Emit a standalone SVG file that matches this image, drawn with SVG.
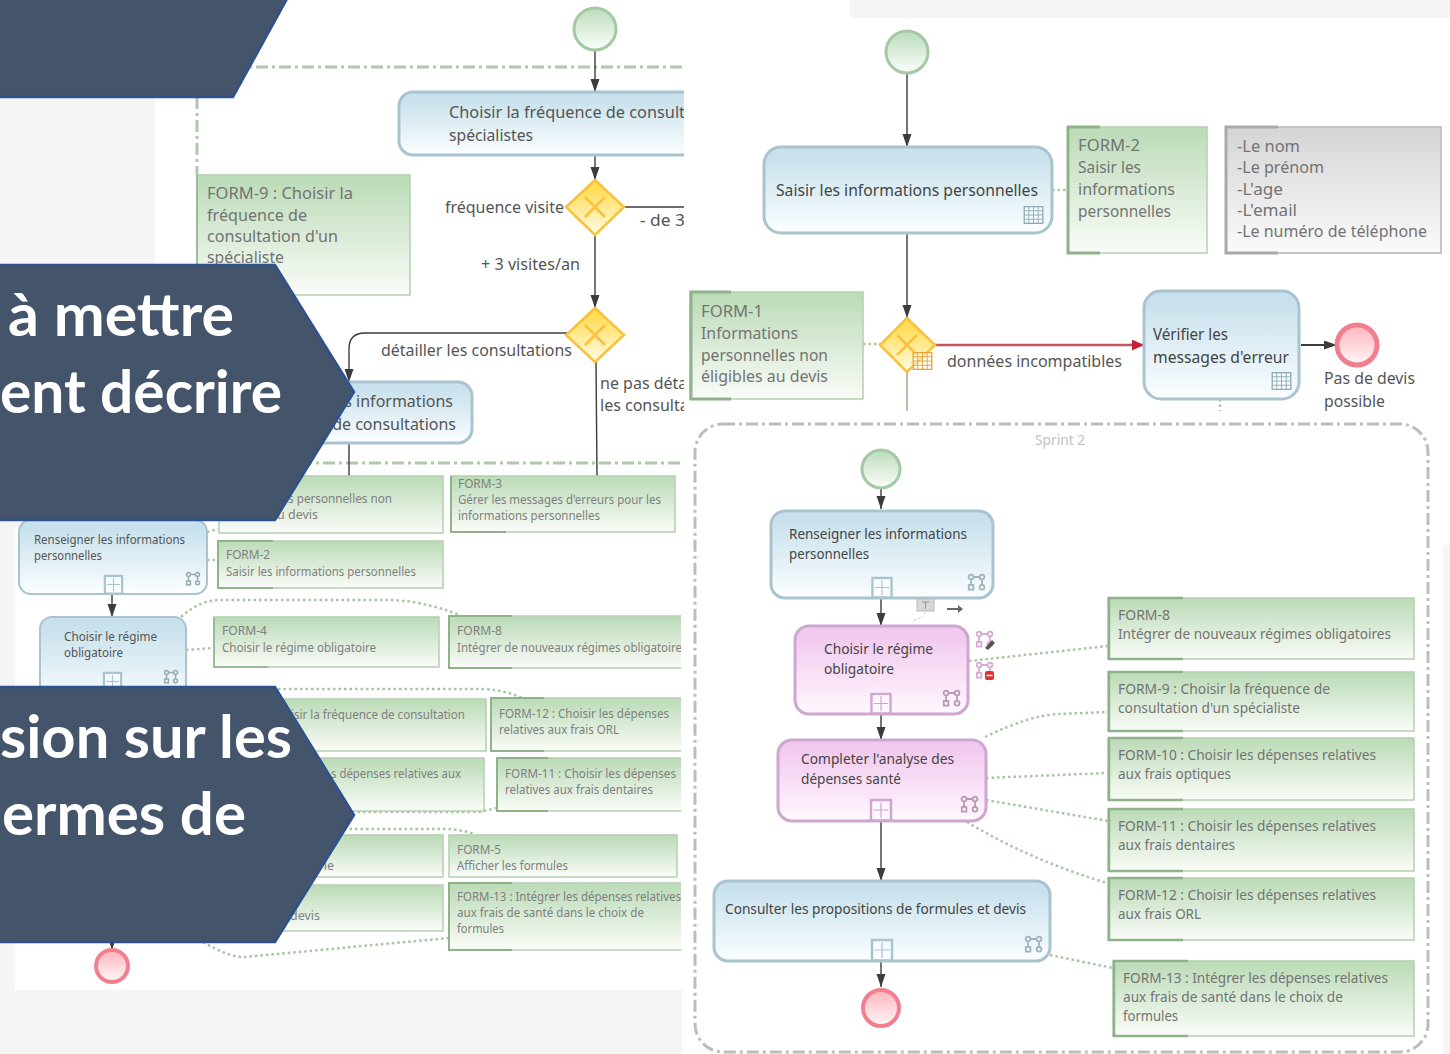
<svg xmlns="http://www.w3.org/2000/svg" width="1450" height="1054" viewBox="0 0 1450 1054">
<style>
text{font-family:"Noto Sans","Open Sans","Liberation Sans",sans-serif;}
.t{fill:#444;font-size:16px}
.s{fill:#555;font-size:12.5px}
.f{fill:#737373;font-size:14px}
.fs{fill:#7f7f7f;font-size:12.5px}
.l{fill:#555;font-size:16px}
.b{fill:#fff;font-family:Lato,"Noto Sans",sans-serif;font-weight:700;font-size:60px}
.task{fill:url(#gBlue);stroke:#a9c4d0;stroke-width:3}
.taskT{fill:url(#gBlue);stroke:#a9c4d0;stroke-width:2}
.pink{fill:url(#gPink);stroke:#cfa6cf;stroke-width:3}
.req{fill:url(#gGreen);stroke:#b3d0af;stroke-width:1.5}
.grey{fill:url(#gGrey);stroke:#c4c4c4;stroke-width:2}
.edge{fill:none;stroke:#8fb28b;stroke-width:3}
.edgeg{fill:none;stroke:#aaa;stroke-width:3}
.gw{fill:url(#gGold);stroke:#f9c13c;stroke-width:2.5}
.gx{fill:none;stroke:#f9c13c;stroke-width:2.5}
.seq{fill:none;stroke:#3c3c3c;stroke-width:1.4}
.ar{fill:none;stroke:#3c3c3c;stroke-width:1.4;marker-end:url(#arr)}
.dot{fill:none;stroke:#a6c5a2;stroke-width:2.5;stroke-dasharray:2.5 3}
.dash{fill:none;stroke:#afcaab;stroke-width:3;stroke-dasharray:12 4 3 4}
.st{fill:url(#gStart);stroke:#a5c8a5;stroke-width:3}
.en{fill:url(#gEnd);stroke:#f08090;stroke-width:4}
.ban{fill:#44546a;stroke:#2f528f;stroke-width:2.5}
.ic{fill:none;stroke:currentColor;stroke-width:1.8}
</style>
<defs>
<linearGradient id="gBlue" x1="0" y1="0" x2="0" y2="1"><stop offset="0.1" stop-color="#c8e1ec"/><stop offset="1" stop-color="#fbfeff"/></linearGradient>
<linearGradient id="gPink" x1="0" y1="0" x2="0" y2="1"><stop offset="0.1" stop-color="#f1c9ee"/><stop offset="1" stop-color="#fff8fe"/></linearGradient>
<linearGradient id="gGreen" x1="0" y1="0" x2="0" y2="1"><stop offset="0.05" stop-color="#bddcb9"/><stop offset="1" stop-color="#fafcf8"/></linearGradient>
<linearGradient id="gGrey" x1="0" y1="0" x2="0" y2="1"><stop offset="0.05" stop-color="#d6d6d6"/><stop offset="1" stop-color="#fbfbfb"/></linearGradient>
<linearGradient id="gGold" x1="0" y1="0" x2="0" y2="1"><stop offset="0.15" stop-color="#ffdd55"/><stop offset="1" stop-color="#fffbe8"/></linearGradient>
<linearGradient id="gStart" x1="0" y1="0" x2="0" y2="1"><stop offset="0" stop-color="#bbdcbb"/><stop offset="1" stop-color="#fbfefb"/></linearGradient>
<linearGradient id="gEnd" x1="0" y1="0" x2="0" y2="1"><stop offset="0" stop-color="#ffb4bc"/><stop offset="1" stop-color="#fff8f8"/></linearGradient>
<marker id="arr" markerUnits="userSpaceOnUse" markerWidth="14" markerHeight="10" refX="13" refY="4.5" orient="auto"><path d="M0 0L13 4.5L0 9z" fill="#3c3c3c"/></marker>
<marker id="arrR" markerUnits="userSpaceOnUse" markerWidth="14" markerHeight="12" refX="12" refY="5.5" orient="auto"><path d="M0 0L12 5.500L0 11z" fill="#c2203a"/></marker>
<clipPath id="cl"><rect x="0" y="0" width="684" height="1054"/></clipPath>
<clipPath id="cf"><rect x="0" y="0" width="681" height="1054"/></clipPath>
<symbol id="proc" viewBox="0 0 17 17" overflow="visible"><g class="ic"><circle cx="3" cy="3" r="2.4"/><circle cx="14" cy="3" r="2.4"/><path d="M5.4 3H11.6M3 5.4V11M14 5.4V10.6"/><rect x="0.8" y="11" width="4.6" height="4.6"/><circle cx="14" cy="13.2" r="2.4"/></g></symbol>
<symbol id="sub" viewBox="0 0 22 22" overflow="visible"><rect x="1" y="1" width="20" height="20.5" fill="#fff" fill-opacity="0.4" stroke="currentColor" stroke-width="2.5"/><path d="M11 3.5V19M3.5 11H18.500" stroke="currentColor" stroke-width="1.2" fill="none"/></symbol>
<symbol id="tbl" viewBox="0 0 21 19" overflow="visible"><rect x="0.7" y="0.7" width="19.6" height="17.6" fill="#fff" fill-opacity="0.5" stroke="currentColor" stroke-width="1.4"/><path d="M0.7 5H20.3M0.7 9.5H20.3M0.7 14H20.3M5.5 0.7V18.3M10.5 0.7V18.3M15.5 0.7V18.3" stroke="currentColor" stroke-width="1" fill="none"/></symbol>
</defs>

<g id="background">
<rect width="1450" height="1054" fill="#fff"/>
<rect x="0" y="97" width="155" height="430" fill="#f5f5f5"/>
<rect x="0" y="500" width="15" height="554" fill="#f5f5f5"/>
<rect x="0" y="990" width="682" height="64" fill="#f5f5f5"/>
<rect x="850" y="0" width="600" height="18" fill="#f5f5f5"/>
<rect x="1443" y="545" width="7" height="509" fill="#f5f5f5"/>
</g>

<g id="sprint-frames">
<path class="dash" d="M197 97V175" />
<path class="dash" d="M233 67H682M300 463H680"/>
<rect x="695" y="424" width="733" height="628" rx="28" fill="none" stroke="#bdbdbd" stroke-width="3" stroke-dasharray="12 4 3 4"/>
<text x="1035" y="445" fill="#c2c2c2" font-size="14" textLength="50" lengthAdjust="spacingAndGlyphs">Sprint 2</text>
</g>

<g id="connectors">
<path class="ar" d="M595 50V92"/><path class="ar" d="M595 155V180"/><path class="seq" d="M624 207H684"/>
<path class="ar" d="M595 236V308"/>
<path class="ar" d="M567 333H365Q349 333 349 349V382"/>
<path class="seq" d="M349 443V476M596 362L597 476"/>
<path class="ar" d="M112 594V617"/><path class="ar" d="M112 938V950"/>
<path class="dot" d="M181 617Q200 600 220 600H388Q420 600 460 615"/>
<path class="dot" d="M207 532L218 529M207 560H218M186 650L213 648"/>
<path class="dot" d="M278 689H484Q505 690 522 698"/>
<path class="dot" d="M352 812H480L496 808"/>
<path class="dot" d="M344 829H445Q460 829 474 834"/>
<path class="dot" d="M203 942Q228 957 245 957L448 938"/>
<path class="ar" d="M907 73V147"/><path class="ar" d="M907 233V318"/>
<path d="M934 345H1144" fill="none" stroke="#c9505f" stroke-width="2.5" marker-end="url(#arrR)"/>
<path class="ar" d="M1301 345H1337" style="stroke-width:2"/>
<path d="M907 372V411" fill="none" stroke="#8fb28b" stroke-width="1.5"/>
<path class="dot" d="M1052 190H1068M863 344H880M1220 399V411"/>
<path class="ar" d="M881 488V509"/><path class="ar" d="M881 598V626"/><path class="ar" d="M881 714V740"/><path class="ar" d="M881 821V881"/><path class="ar" d="M881 961V987"/>
<path class="dot" d="M969 661L1108 646"/>
<path class="dot" d="M985 737Q1030 715 1060 714L1106 712"/>
<path class="dot" d="M986 778L1106 773M986 800L1108 821M967 822Q1030 860 1107 883M1050 955L1113 968"/>
</g>

<g id="L-start"><circle class="st" cx="595" cy="29" r="21"/></g>
<g id="L-task-frequence" clip-path="url(#cl)"><rect class="task" x="399" y="92" width="320" height="63" rx="14"/>
<text class="l" x="449" y="118" textLength="236" lengthAdjust="spacingAndGlyphs">Choisir la fréquence de consult</text><text class="l" x="449" y="141" textLength="84" lengthAdjust="spacingAndGlyphs">spécialistes</text></g>
<g id="L-form9"><rect class="req" x="197" y="175" width="213" height="120"/><path class="edge" d="M197 175V295" style="stroke-width:1.5"/>
<text class="f" x="207" y="199" style="font-size:16px" textLength="146" lengthAdjust="spacingAndGlyphs">FORM-9 : Choisir la</text>
<text class="f" x="207" y="221" style="font-size:16px" textLength="100" lengthAdjust="spacingAndGlyphs">fréquence de</text>
<text class="f" x="207" y="242" style="font-size:16px" textLength="131" lengthAdjust="spacingAndGlyphs">consultation d'un</text>
<text class="f" x="207" y="263" style="font-size:16px" textLength="77" lengthAdjust="spacingAndGlyphs">spécialiste</text></g>
<g id="L-gw1"><path class="gw" d="M595 180L624 207L595 235L566 207Z"/><path class="gx" d="M585 197L605 217M605 197L585 217"/>
<text class="l" x="445" y="213" textLength="119" lengthAdjust="spacingAndGlyphs">fréquence visite</text></g>
<g id="L-labels" clip-path="url(#cl)">
<text class="l" x="640" y="226" textLength="45" lengthAdjust="spacingAndGlyphs">- de 3</text>
<text class="l" x="481" y="270" textLength="99" lengthAdjust="spacingAndGlyphs">+ 3 visites/an</text>
<text class="l" x="381" y="356" textLength="191" lengthAdjust="spacingAndGlyphs">détailler les consultations</text>
<text class="l" x="600" y="389">ne pas déta</text>
<text class="l" x="600" y="411">les consulta</text></g>
<g id="L-gw2"><path class="gw" d="M595 308L624 335L595 362L566 335Z"/><path class="gx" d="M585 325L605 345M605 325L585 345"/></g>
<g id="L-task-consult"><rect class="task" x="300" y="382" width="172" height="61" rx="14"/>
<text class="l" x="453" y="407" text-anchor="end">s informations</text><text class="l" x="456" y="430" text-anchor="end">de consultations</text></g>
<g id="L-form1"><rect class="req" x="219" y="476" width="224" height="57"/>
<text class="fs" x="392" y="503" text-anchor="end" textLength="107" lengthAdjust="spacingAndGlyphs">is personnelles non</text><text class="fs" x="318" y="519" text-anchor="end">u devis</text></g>
<g id="L-form3"><rect class="req" x="451" y="476" width="224" height="56"/><path class="edge" d="M451 476V532H506" style="stroke-width:2"/>
<text class="fs" x="458" y="488" textLength="44" lengthAdjust="spacingAndGlyphs">FORM-3</text>
<text class="fs" x="458" y="504" textLength="203" lengthAdjust="spacingAndGlyphs">Gérer les messages d'erreurs pour les</text>
<text class="fs" x="458" y="520" textLength="142" lengthAdjust="spacingAndGlyphs">informations personnelles</text></g>
<g id="L-task-renseigner"><rect class="taskT" x="19" y="520" width="188" height="74" rx="12"/>
<text class="s" x="34" y="544" textLength="151" lengthAdjust="spacingAndGlyphs">Renseigner les informations</text><text class="s" x="34" y="560" textLength="68" lengthAdjust="spacingAndGlyphs">personnelles</text>
<use href="#sub" x="104" y="575" width="19" height="19" style="color:#a9c4d0"/><use href="#proc" x="186" y="572" width="14" height="14" style="color:#9aa"/></g>
<g id="L-form2"><rect class="req" x="218" y="541" width="225" height="47"/><path class="edge" d="M273 541H218V588H273" style="stroke-width:2"/>
<text class="fs" x="226" y="559" textLength="44" lengthAdjust="spacingAndGlyphs">FORM-2</text>
<text class="fs" x="226" y="576" textLength="190" lengthAdjust="spacingAndGlyphs">Saisir les informations personnelles</text></g>
<g id="L-task-regime"><rect class="taskT" x="40" y="617" width="146" height="90" rx="12"/>
<text class="s" x="64" y="641" textLength="93" lengthAdjust="spacingAndGlyphs">Choisir le régime</text><text class="s" x="64" y="657" textLength="59" lengthAdjust="spacingAndGlyphs">obligatoire</text>
<use href="#sub" x="103" y="672" width="19" height="19" style="color:#a9c4d0"/><use href="#proc" x="164" y="670" width="14" height="14" style="color:#9aa"/></g>
<g id="L-form4"><rect class="req" x="214" y="617" width="225" height="50"/><path class="edge" d="M214 617V667H268" style="stroke-width:1.5"/>
<text class="fs" x="222" y="635" textLength="45" lengthAdjust="spacingAndGlyphs">FORM-4</text>
<text class="fs" x="222" y="652" textLength="154" lengthAdjust="spacingAndGlyphs">Choisir le régime obligatoire</text></g>
<g id="L-form8" clip-path="url(#cf)"><rect class="req" x="449" y="616" width="245" height="52"/><path class="edge" d="M512 616H449V668H512" style="stroke-width:2"/>
<text class="fs" x="457" y="635" textLength="45" lengthAdjust="spacingAndGlyphs">FORM-8</text>
<text class="fs" x="457" y="652" textLength="225" lengthAdjust="spacingAndGlyphs">Intégrer de nouveaux régimes obligatoire</text></g>
<g id="L-formA"><rect class="req" x="270" y="699" width="216" height="52"/><text class="fs" x="465" y="719" text-anchor="end" textLength="174" lengthAdjust="spacingAndGlyphs">isir la fréquence de consultation</text></g>
<g id="L-form12" clip-path="url(#cf)"><rect class="req" x="491" y="698" width="240" height="53"/><path class="edge" d="M544 698H491V751H544" style="stroke-width:2"/>
<text class="fs" x="499" y="718" textLength="170" lengthAdjust="spacingAndGlyphs">FORM-12 : Choisir les dépenses</text>
<text class="fs" x="499" y="734" textLength="120" lengthAdjust="spacingAndGlyphs">relatives aux frais ORL</text></g>
<g id="L-formB"><rect class="req" x="270" y="758" width="214" height="53"/><text class="fs" x="461" y="778" text-anchor="end" textLength="130" lengthAdjust="spacingAndGlyphs">s dépenses relatives aux</text></g>
<g id="L-form11" clip-path="url(#cf)"><rect class="req" x="497" y="758" width="240" height="53"/><path class="edge" d="M548 758H497V811H548" style="stroke-width:2"/>
<text class="fs" x="505" y="778" textLength="171" lengthAdjust="spacingAndGlyphs">FORM-11 : Choisir les dépenses</text>
<text class="fs" x="505" y="794" textLength="148" lengthAdjust="spacingAndGlyphs">relatives aux frais dentaires</text></g>
<g id="L-formC"><rect class="req" x="270" y="835" width="173" height="42"/><text class="fs" x="334" y="870" text-anchor="end">le</text></g>
<g id="L-form5"><rect class="req" x="449" y="835" width="228" height="42"/>
<text class="fs" x="457" y="854" textLength="44" lengthAdjust="spacingAndGlyphs">FORM-5</text>
<text class="fs" x="457" y="870" textLength="111" lengthAdjust="spacingAndGlyphs">Afficher les formules</text></g>
<g id="L-formD"><rect class="req" x="270" y="885" width="173" height="46"/><text class="fs" x="320" y="920" text-anchor="end">devis</text></g>
<g id="L-form13" clip-path="url(#cf)"><rect class="req" x="449" y="883" width="245" height="67"/><path class="edge" d="M512 883H449V950H512" style="stroke-width:2"/>
<text class="fs" x="457" y="901" textLength="224" lengthAdjust="spacingAndGlyphs">FORM-13 : Intégrer les dépenses relatives</text>
<text class="fs" x="457" y="917" textLength="187" lengthAdjust="spacingAndGlyphs">aux frais de santé dans le choix de</text>
<text class="fs" x="457" y="933" textLength="47" lengthAdjust="spacingAndGlyphs">formules</text></g>
<g id="L-end"><circle cx="112" cy="966" r="16" class="en"/></g>

<g id="banner-1"><polygon class="ban" points="-3,-3 288,-3 233,97 -3,97"/></g>
<g id="banner-2"><polygon class="ban" points="-3,265 275,265 354,392 275,520 -3,520"/>
<text class="b" x="8" y="336" textLength="226" lengthAdjust="spacingAndGlyphs">à mettre</text><text class="b" x="0" y="413" textLength="282" lengthAdjust="spacingAndGlyphs">ent décrire</text></g>
<g id="banner-3"><polygon class="ban" points="-3,687 275,687 354,815 275,942 -3,942"/>
<text class="b" x="0" y="758" textLength="292" lengthAdjust="spacingAndGlyphs">sion sur les</text><text class="b" x="2" y="835" textLength="244" lengthAdjust="spacingAndGlyphs">ermes de</text></g>

<g id="R-start"><circle class="st" cx="907" cy="52" r="21"/></g>
<g id="R-task-saisir"><rect class="task" x="764" y="147" width="288" height="86" rx="17"/>
<text class="t" x="776" y="196" style="font-size:17px" textLength="262" lengthAdjust="spacingAndGlyphs">Saisir les informations personnelles</text>
<use href="#tbl" x="1023" y="206" width="21" height="18" style="color:#8fabb8"/></g>
<g id="R-form2"><rect class="req" x="1068" y="127" width="139" height="126"/><path class="edge" d="M1100 127H1068V253H1100"/>
<text class="f" x="1078" y="151" style="font-size:17px" textLength="62" lengthAdjust="spacingAndGlyphs">FORM-2</text>
<text class="f" x="1078" y="173" style="font-size:17px" textLength="63" lengthAdjust="spacingAndGlyphs">Saisir les</text>
<text class="f" x="1078" y="195" style="font-size:17px" textLength="97" lengthAdjust="spacingAndGlyphs">informations</text>
<text class="f" x="1078" y="217" style="font-size:17px" textLength="93" lengthAdjust="spacingAndGlyphs">personnelles</text></g>
<g id="R-note"><rect class="grey" x="1226" y="127" width="215" height="126"/><path class="edgeg" d="M1278 127H1226V253H1278"/>
<text class="f" x="1237" y="152" style="font-size:17px" textLength="63" lengthAdjust="spacingAndGlyphs">-Le nom</text>
<text class="f" x="1237" y="173" style="font-size:17px" textLength="87" lengthAdjust="spacingAndGlyphs">-Le prénom</text>
<text class="f" x="1237" y="195" style="font-size:17px" textLength="46" lengthAdjust="spacingAndGlyphs">-L'age</text>
<text class="f" x="1237" y="216" style="font-size:17px" textLength="60" lengthAdjust="spacingAndGlyphs">-L'email</text>
<text class="f" x="1237" y="237" style="font-size:17px" textLength="190" lengthAdjust="spacingAndGlyphs">-Le numéro de téléphone</text></g>
<g id="R-form1"><rect class="req" x="690" y="292" width="173" height="107"/><path class="edge" d="M731 292H691V399H731"/>
<text class="f" x="701" y="317" style="font-size:17px" textLength="62" lengthAdjust="spacingAndGlyphs">FORM-1</text>
<text class="f" x="701" y="339" style="font-size:17px" textLength="97" lengthAdjust="spacingAndGlyphs">Informations</text>
<text class="f" x="701" y="361" style="font-size:17px" textLength="127" lengthAdjust="spacingAndGlyphs">personnelles non</text>
<text class="f" x="701" y="382" style="font-size:17px" textLength="127" lengthAdjust="spacingAndGlyphs">éligibles au devis</text></g>
<g id="R-gw"><path class="gw" d="M907 318L935 345L907 372L880 345Z"/><path class="gx" d="M897 335L917 355M917 335L897 355"/>
<use href="#tbl" x="912" y="352" width="21" height="18" style="color:#e4a63a"/></g>
<text class="l" x="947" y="367" style="font-size:17px" textLength="175" lengthAdjust="spacingAndGlyphs">données incompatibles</text>
<g id="R-task-verifier"><rect class="task" x="1144" y="291" width="155" height="108" rx="17"/>
<text class="t" x="1153" y="340" style="font-size:17px" textLength="75" lengthAdjust="spacingAndGlyphs">Vérifier les</text>
<text class="t" x="1153" y="363" style="font-size:17px" textLength="136" lengthAdjust="spacingAndGlyphs">messages d'erreur</text>
<use href="#tbl" x="1271" y="372" width="21" height="18" style="color:#8fabb8"/></g>
<g id="R-end"><circle class="en" cx="1357" cy="345" r="20" style="stroke-width:5"/>
<text class="l" x="1324" y="384" style="font-size:17px" textLength="91" lengthAdjust="spacingAndGlyphs">Pas de devis</text>
<text class="l" x="1324" y="407" style="font-size:17px" textLength="61" lengthAdjust="spacingAndGlyphs">possible</text></g>

<g id="S-start"><circle class="st" cx="881" cy="469" r="19"/></g>
<g id="S-renseigner"><rect class="task" x="771" y="511" width="222" height="87" rx="14"/>
<text class="t" x="789" y="539" style="font-size:14.5px" textLength="178" lengthAdjust="spacingAndGlyphs">Renseigner les informations</text>
<text class="t" x="789" y="559" style="font-size:14.5px" textLength="80" lengthAdjust="spacingAndGlyphs">personnelles</text>
<use href="#sub" x="871" y="577" width="22" height="21" style="color:#a9c4d0"/><use href="#proc" x="968" y="574" width="17" height="17" style="color:#9fb4be"/></g>
<g id="S-hover"><rect x="917" y="599" width="17" height="12" fill="#d8d8d8" stroke="#bbb"/><path d="M922 602H929M925.500 602V609" stroke="#999" fill="none"/><path d="M914 620Q923 619 925 612" stroke="#ccc" stroke-dasharray="2 2" fill="none"/><path d="M947 609H960" stroke="#666" stroke-width="2" fill="none"/><path d="M958 605L963 609L958 613z" fill="#666"/></g>
<g id="S-regime"><rect class="pink" x="795" y="626" width="173" height="88" rx="14"/>
<text class="t" x="824" y="654" style="font-size:14.5px" textLength="109" lengthAdjust="spacingAndGlyphs">Choisir le régime</text>
<text class="t" x="824" y="674" style="font-size:14.5px" textLength="70" lengthAdjust="spacingAndGlyphs">obligatoire</text>
<use href="#sub" x="870" y="693" width="22" height="21" style="color:#cfa6cf"/><use href="#proc" x="943" y="690" width="17" height="17" style="color:#b59ab5"/></g>
<g id="S-icons"><use href="#proc" x="976" y="631" width="17" height="17" style="color:#d7a8d7"/><path d="M985 648L992 640L995 643L988 650Z" fill="#555"/><use href="#proc" x="976" y="662" width="17" height="17" style="color:#d7a8d7"/><rect x="985" y="671" width="9" height="9" rx="2" fill="#e03030"/><path d="M986.5 675.5H992.5" stroke="#fff" stroke-width="1.5"/></g>
<g id="S-analyse"><rect class="pink" x="778" y="740" width="208" height="81" rx="14"/>
<text class="t" x="801" y="764" style="font-size:14.5px" textLength="153" lengthAdjust="spacingAndGlyphs">Completer l'analyse des</text>
<text class="t" x="801" y="784" style="font-size:14.5px" textLength="100" lengthAdjust="spacingAndGlyphs">dépenses santé</text>
<use href="#sub" x="870" y="799" width="22" height="22" style="color:#cfa6cf"/><use href="#proc" x="961" y="796" width="17" height="17" style="color:#b59ab5"/></g>
<g id="S-consulter"><rect class="task" x="714" y="881" width="336" height="80" rx="14"/>
<text class="t" x="725" y="914" style="font-size:14.5px" textLength="301" lengthAdjust="spacingAndGlyphs">Consulter les propositions de formules et devis</text>
<use href="#sub" x="871" y="939" width="22" height="22" style="color:#a9c4d0"/><use href="#proc" x="1025" y="936" width="17" height="17" style="color:#9fb4be"/></g>
<g id="S-end"><circle class="en" cx="881" cy="1008" r="18"/></g>

<g id="S-form8"><rect class="req" x="1108" y="598" width="306" height="61"/><path class="edge" d="M1183 598H1109V659H1183" style="stroke-width:2.5"/>
<text class="f" x="1118" y="620" textLength="52" lengthAdjust="spacingAndGlyphs">FORM-8</text>
<text class="f" x="1118" y="639" textLength="273" lengthAdjust="spacingAndGlyphs">Intégrer de nouveaux régimes obligatoires</text></g>
<g id="S-form9"><rect class="req" x="1108" y="672" width="306" height="59"/><path class="edge" d="M1183 672H1109V731H1183" style="stroke-width:2.5"/>
<text class="f" x="1118" y="694" textLength="212" lengthAdjust="spacingAndGlyphs">FORM-9 : Choisir la fréquence de</text>
<text class="f" x="1118" y="713" textLength="182" lengthAdjust="spacingAndGlyphs">consultation d'un spécialiste</text></g>
<g id="S-form10"><rect class="req" x="1108" y="738" width="306" height="62"/><path class="edge" d="M1183 738H1109V800H1183" style="stroke-width:2.5"/>
<text class="f" x="1118" y="760" textLength="258" lengthAdjust="spacingAndGlyphs">FORM-10 : Choisir les dépenses relatives</text>
<text class="f" x="1118" y="779" textLength="113" lengthAdjust="spacingAndGlyphs">aux frais optiques</text></g>
<g id="S-form11"><rect class="req" x="1108" y="809" width="306" height="62"/><path class="edge" d="M1183 809H1109V871H1183" style="stroke-width:2.5"/>
<text class="f" x="1118" y="831" textLength="258" lengthAdjust="spacingAndGlyphs">FORM-11 : Choisir les dépenses relatives</text>
<text class="f" x="1118" y="850" textLength="117" lengthAdjust="spacingAndGlyphs">aux frais dentaires</text></g>
<g id="S-form12"><rect class="req" x="1108" y="878" width="306" height="62"/><path class="edge" d="M1183 878H1109V940H1183" style="stroke-width:2.5"/>
<text class="f" x="1118" y="900" textLength="258" lengthAdjust="spacingAndGlyphs">FORM-12 : Choisir les dépenses relatives</text>
<text class="f" x="1118" y="919" textLength="83" lengthAdjust="spacingAndGlyphs">aux frais ORL</text></g>
<g id="S-form13"><rect class="req" x="1113" y="961" width="301" height="75"/><path class="edge" d="M1188 961H1114V1036H1188" style="stroke-width:2.5"/>
<text class="f" x="1123" y="983" textLength="265" lengthAdjust="spacingAndGlyphs">FORM-13 : Intégrer les dépenses relatives</text>
<text class="f" x="1123" y="1002" textLength="220" lengthAdjust="spacingAndGlyphs">aux frais de santé dans le choix de</text>
<text class="f" x="1123" y="1021" textLength="55" lengthAdjust="spacingAndGlyphs">formules</text></g>
</svg>
